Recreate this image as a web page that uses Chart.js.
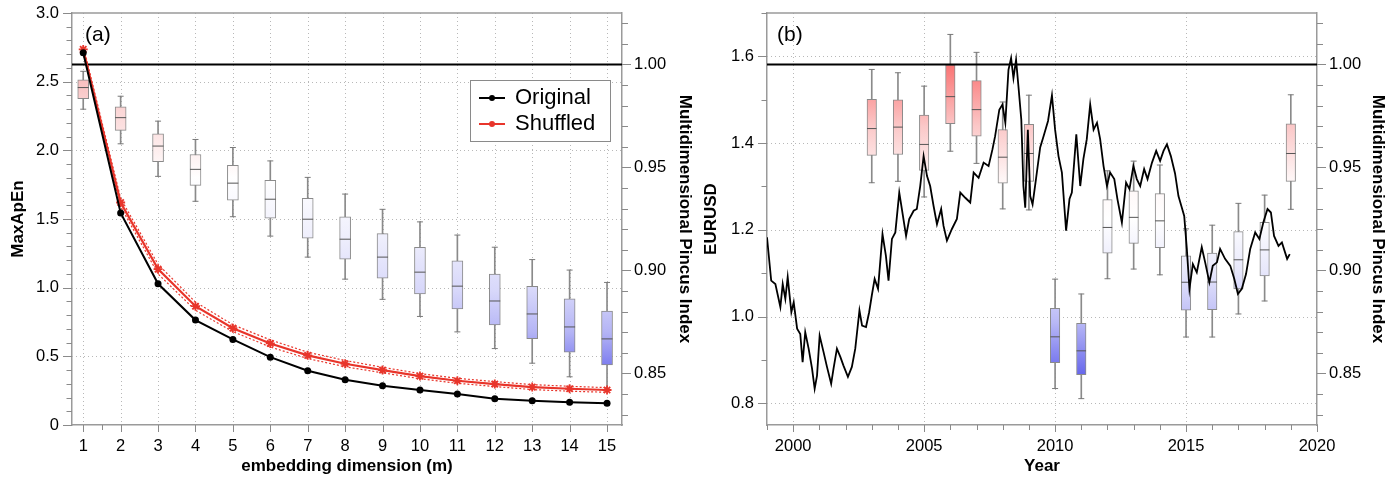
<!DOCTYPE html>
<html><head><meta charset="utf-8">
<script src="https://cdn.jsdelivr.net/npm/chart.js@4.4.1/dist/chart.umd.min.js"></script>
<style>
html,body{margin:0;padding:0;background:#fff;}
#wrap{position:relative;width:1400px;height:477px;overflow:hidden;}
canvas{position:absolute;top:0;}
</style></head><body>
<div id="wrap">
<canvas id="ca" width="700" height="477" style="left:0"></canvas>
<canvas id="cb" width="700" height="477" style="left:700px"></canvas>
</div>
<script>
// ================= Panel (a) data =================
const aDims = [1,2,3,4,5,6,7,8,9,10,11,12,13,14,15];
const aOriginal   = [2.71,1.544,1.028,0.764,0.623,0.494,0.395,0.330,0.286,0.255,0.225,0.192,0.177,0.165,0.158];
const aShuffled   = [2.735,1.62,1.135,0.865,0.705,0.594,0.507,0.446,0.400,0.356,0.322,0.298,0.276,0.264,0.255];
const aShuffledHi = [2.76,1.65,1.17,0.895,0.73,0.62,0.53,0.47,0.42,0.375,0.34,0.316,0.294,0.282,0.272];
const aShuffledLo = [2.71,1.59,1.10,0.835,0.68,0.568,0.484,0.424,0.38,0.337,0.304,0.28,0.258,0.246,0.238];
const aWhiskerLo = [0.9783,0.9615,0.9457,0.9336,0.9261,0.9167,0.9065,0.8958,0.8860,0.8777,0.8702,0.8621,0.8550,0.8484,0.8423];
const aQ1        = [0.9834,0.9680,0.9528,0.9413,0.9341,0.9254,0.9157,0.9055,0.8963,0.8886,0.8813,0.8736,0.8669,0.8603,0.8542];
const aMedian    = [0.9888,0.9742,0.9604,0.9491,0.9424,0.9346,0.9249,0.9152,0.9065,0.8992,0.8924,0.8852,0.8789,0.8726,0.8668];
const aQ3        = [0.9926,0.9794,0.9663,0.9563,0.9510,0.9438,0.9350,0.9260,0.9179,0.9113,0.9047,0.8983,0.8923,0.8862,0.8803];
const aWhiskerHi = [0.9967,0.9846,0.9725,0.9636,0.9597,0.9532,0.9452,0.9371,0.9297,0.9236,0.9172,0.9113,0.9053,0.9002,0.8942];
const aXTicks = [1,2,3,4,5,6,7,8,9,10,11,12,13,14,15];
const aYTicks = [0,0.5,1.0,1.5,2.0,2.5,3.0];
const mpiTicks = [0.85,0.90,0.95,1.00];
const mpiReference = 1.00;

// ================= Panel (b) data =================
const bYears = [2003,2004,2005,2006,2007,2008,2009,2010,2011,2012,2013,2014,2015,2016,2017,2018,2019];
const bWhiskerLo = [0.9426,0.9433,0.9357,0.9579,0.9520,0.9299,0.9294,0.8427,0.8378,0.8960,0.9007,0.8979,0.8677,0.8677,0.8789,0.8852,0.9297];
const bQ1        = [0.9559,0.9563,0.9486,0.9713,0.9652,0.9424,0.9433,0.8552,0.8494,0.9084,0.9132,0.9111,0.8808,0.8810,0.8910,0.8974,0.9433];
const bMedian    = [0.9689,0.9696,0.9612,0.9844,0.9781,0.9550,0.9568,0.8678,0.8610,0.9209,0.9258,0.9241,0.8943,0.8944,0.9052,0.9100,0.9568];
const bQ3        = [0.9831,0.9828,0.9754,0.9998,0.9922,0.9684,0.9709,0.8816,0.8743,0.9344,0.9387,0.9373,0.9071,0.9085,0.9189,0.9234,0.9712];
const bWhiskerHi = [0.9976,0.9960,0.9895,1.0146,1.0059,0.9818,0.9851,0.8958,0.8886,0.9484,0.9531,0.9512,0.9202,0.9220,0.9326,0.9366,0.9853];
const eurYear = [1999.00,1999.16,1999.32,1999.51,1999.60,1999.70,1999.79,1999.93,2000.02,2000.15,2000.27,2000.36,2000.46,2000.59,2000.72,2000.82,2000.91,2001.01,2001.16,2001.29,2001.45,2001.54,2001.67,2001.80,2001.92,2002.09,2002.24,2002.37,2002.53,2002.63,2002.78,2002.90,2003.00,2003.11,2003.24,2003.41,2003.54,2003.64,2003.77,2003.90,2004.05,2004.15,2004.31,2004.43,2004.60,2004.72,2004.85,2004.98,2005.11,2005.23,2005.36,2005.49,2005.65,2005.74,2005.87,2006.06,2006.25,2006.38,2006.57,2006.76,2006.89,2007.08,2007.27,2007.46,2007.61,2007.71,2007.87,2007.99,2008.10,2008.22,2008.32,2008.41,2008.51,2008.60,2008.71,2008.79,2008.86,2008.96,2009.05,2009.14,2009.27,2009.43,2009.56,2009.73,2009.88,2010.00,2010.13,2010.26,2010.42,2010.55,2010.64,2010.81,2010.96,2011.08,2011.21,2011.34,2011.47,2011.60,2011.72,2011.85,2011.98,2012.10,2012.26,2012.38,2012.55,2012.71,2012.84,2012.99,2013.12,2013.25,2013.40,2013.53,2013.70,2013.86,2014.01,2014.14,2014.27,2014.42,2014.58,2014.71,2014.84,2014.93,2015.03,2015.13,2015.26,2015.41,2015.60,2015.73,2015.89,2016.02,2016.18,2016.30,2016.49,2016.69,2016.84,2016.98,2017.13,2017.29,2017.45,2017.64,2017.80,2017.95,2018.11,2018.24,2018.36,2018.53,2018.66,2018.78,2018.86,2018.96];
const eurValue = [1.183,1.083,1.075,1.022,1.075,1.041,1.091,1.010,1.033,0.972,0.960,0.895,0.964,0.926,0.880,0.834,0.864,0.956,0.918,0.884,0.845,0.880,0.926,0.907,0.887,0.861,0.884,0.926,1.014,0.979,0.976,1.010,1.048,1.087,1.064,1.190,1.140,1.083,1.179,1.194,1.286,1.248,1.186,1.225,1.244,1.248,1.301,1.370,1.324,1.301,1.255,1.213,1.248,1.209,1.175,1.202,1.225,1.286,1.274,1.263,1.332,1.320,1.355,1.347,1.386,1.416,1.477,1.489,1.447,1.569,1.596,1.550,1.592,1.531,1.454,1.301,1.251,1.431,1.278,1.259,1.317,1.390,1.416,1.451,1.510,1.431,1.370,1.332,1.198,1.271,1.286,1.420,1.301,1.363,1.409,1.489,1.431,1.447,1.409,1.347,1.301,1.332,1.317,1.271,1.217,1.309,1.294,1.347,1.317,1.301,1.340,1.317,1.355,1.382,1.359,1.382,1.397,1.370,1.330,1.278,1.251,1.232,1.156,1.064,1.121,1.102,1.160,1.125,1.079,1.117,1.125,1.156,1.133,1.117,1.087,1.052,1.064,1.098,1.156,1.194,1.179,1.217,1.248,1.240,1.186,1.163,1.171,1.148,1.133,1.144];
const bXTicks = [2000,2005,2010,2015,2020];
const bYTicks = [0.8,1.0,1.2,1.4,1.6];

// ================= styling =================
const FONT = "'Liberation Sans', Arial, Helvetica, sans-serif";
Chart.defaults.font.family = FONT;
Chart.defaults.color = '#000';
const RED = '#e8352b';
const AXIS = '#9a9a9a';
const TICKC = '#8a8a8a';
const TICK_FONT = {size: 16.5};
const TITLE_FONT = {size: 17, weight: 'bold'};
const stopsA = [[1.00,'rgb(247,175,175)'],[0.985,'rgb(250,205,205)'],[0.945,'rgb(255,255,255)'],[0.915,'rgb(238,238,252)'],[0.89,'rgb(215,215,250)'],[0.87,'rgb(180,180,245)'],[0.85,'rgb(112,112,238)']];
const stopsB = [[1.00,'rgb(250,115,115)'],[0.97,'rgb(251,200,200)'],[0.945,'rgb(254,245,245)'],[0.925,'rgb(255,255,255)'],[0.90,'rgb(232,232,251)'],[0.875,'rgb(185,185,246)'],[0.85,'rgb(105,105,236)']];

function range(a, b, s) { const r = []; for (let v = a; v <= b + 1e-9; v += s) r.push(+v.toFixed(4)); return r; }

function boxSets(xs, wlo, q1, med, q3, whi, stops, width) {
  const grad = (c) => {
    const ch = c.chart; if (!ch.chartArea) return '#fff';
    const s = ch.scales.y2;
    const top = s.getPixelForValue(s.max), bot = s.getPixelForValue(s.min);
    const g = ch.ctx.createLinearGradient(0, top, 0, bot);
    stops.forEach(([v, col]) => g.addColorStop(Math.min(1, Math.max(0, (s.max - v) / (s.max - s.min))), col));
    return g;
  };
  return [
    {type:'line', data: xs.map((x,i)=>({x, y:med[i]})), yAxisID:'y2', showLine:false, pointStyle:'line', pointRadius:width/2, pointHoverRadius:width/2, pointBorderColor:'#555', pointBorderWidth:1, order:1},
    {type:'line', data: xs.flatMap((x,i)=>[{x,y:wlo[i]},{x,y:whi[i]}]), yAxisID:'y2', showLine:false, pointStyle:'line', pointRadius:3, pointHoverRadius:3, pointBorderColor:'#7a7a7a', pointBorderWidth:1, order:1},
    {type:'bar', data: xs.map((x,i)=>({x, y:[q1[i], q3[i]]})), yAxisID:'y2', backgroundColor:grad, borderColor:'#8a8a8a', borderWidth:1, borderSkipped:false, barThickness:width, grouped:false, order:2},
    {type:'bar', data: xs.map((x,i)=>({x, y:[wlo[i], whi[i]]})), yAxisID:'y2', backgroundColor:'#8a8a8a', borderWidth:0, barThickness:1, grouped:false, order:3}
  ];
}

const decor = {
  id: 'decor',
  beforeDatasetsDraw(chart, args, o) {
    const ctx = chart.ctx, a = chart.chartArea;
    ctx.save();
    ctx.strokeStyle = '#b8b8b8'; ctx.lineWidth = 1; ctx.setLineDash([1, 3]);
    o.gridX.forEach(v => { const p = Math.round(chart.scales.x.getPixelForValue(v)) + 0.5;
      if (p > a.left + 2 && p < a.right - 2) { ctx.beginPath(); ctx.moveTo(p, a.top); ctx.lineTo(p, a.bottom); ctx.stroke(); } });
    o.gridY.forEach(v => { const p = Math.round(chart.scales.y.getPixelForValue(v)) + 0.5;
      if (p > a.top + 2 && p < a.bottom - 2) { ctx.beginPath(); ctx.moveTo(a.left, p); ctx.lineTo(a.right, p); ctx.stroke(); } });
    ctx.restore();
  },
  afterDraw(chart, args, o) {
    const ctx = chart.ctx, a = chart.chartArea;
    ctx.save();
    ctx.strokeStyle = AXIS; ctx.lineWidth = 1.5;
    ctx.beginPath(); ctx.moveTo(a.left, a.top); ctx.lineTo(a.right, a.top); ctx.stroke();
    ctx.strokeStyle = TICKC; ctx.lineWidth = 1;
    o.ticks.forEach(spec => {
      const sc = chart.scales[spec.id];
      const draw = (v, len) => {
        const p = Math.round(sc.getPixelForValue(v)) + 0.5;
        ctx.beginPath();
        if (spec.side === 'left') { ctx.moveTo(a.left, p); ctx.lineTo(a.left - len, p); }
        else if (spec.side === 'right') { ctx.moveTo(a.right, p); ctx.lineTo(a.right + len, p); }
        else { ctx.moveTo(p, a.bottom); ctx.lineTo(p, a.bottom + len); }
        ctx.stroke();
      };
      spec.minor.forEach(v => draw(v, spec.minorLen));
      spec.major.forEach(v => draw(v, spec.majorLen));
    });
    ctx.fillStyle = '#000'; ctx.font = '21px ' + FONT; ctx.textBaseline = 'middle'; ctx.textAlign = 'left';
    ctx.fillText(o.label, o.labelX, o.labelY);
    if (o.legend) {
      const L = o.legend;
      ctx.fillStyle = '#fff'; ctx.fillRect(L.x, L.y, L.w, L.h);
      ctx.strokeStyle = '#8a8a8a'; ctx.lineWidth = 1; ctx.strokeRect(L.x + 0.5, L.y + 0.5, L.w, L.h);
      L.items.forEach((it, i) => {
        const y = L.y + L.firstY + i * L.rowH;
        ctx.strokeStyle = it.color; ctx.lineWidth = 2;
        ctx.beginPath(); ctx.moveTo(L.x + 9, y); ctx.lineTo(L.x + 35, y); ctx.stroke();
        ctx.fillStyle = it.color; ctx.beginPath(); ctx.arc(L.x + 22, y, 3, 0, Math.PI * 2); ctx.fill();
        ctx.fillStyle = '#000'; ctx.font = '22px ' + FONT; ctx.textBaseline = 'middle';
        ctx.fillText(it.text, L.x + 45, y);
      });
    }
    ctx.restore();
  }
};

const border = {display: true, color: AXIS, width: 1.5};
const noGrid = {display: false, drawTicks: false, tickLength: 0};
const fitV = w => s => { s.width = w; s.paddingTop = 0; s.paddingBottom = 0; };
const fitH = h => s => { s.height = h; s.paddingLeft = 0; s.paddingRight = 0; };

// ================= Chart (a) =================
new Chart(document.getElementById('ca'), {
  type: 'bar',
  data: { datasets: [
    {type:'line', label:'Original', data: aDims.map((m,i)=>({x:m, y:aOriginal[i]})), yAxisID:'y', borderColor:'#000', borderWidth:2, pointRadius:3.5, pointHoverRadius:3.5, pointBorderWidth:0, pointBackgroundColor:'#000', order:0},
    {type:'line', label:'Shuffled', data: aDims.map((m,i)=>({x:m, y:aShuffled[i]})), yAxisID:'y', borderColor:RED, borderWidth:2.2, pointStyle:'star', pointRadius:4.5, pointHoverRadius:4.5, pointBorderWidth:1.8, pointBorderColor:RED, pointBackgroundColor:RED, order:0},
    {type:'line', label:'hi', data: aDims.map((m,i)=>({x:m, y:aShuffledHi[i]})), yAxisID:'y', borderColor:RED, borderWidth:1.2, borderDash:[2,2], pointRadius:0, order:0},
    {type:'line', label:'lo', data: aDims.map((m,i)=>({x:m, y:aShuffledLo[i]})), yAxisID:'y', borderColor:RED, borderWidth:1.2, borderDash:[2,2], pointRadius:0, order:0},
    {type:'line', label:'ref', data: [{x:0, y:mpiReference}, {x:16, y:mpiReference}], yAxisID:'y2', borderColor:'#000', borderWidth:2, pointRadius:0, order:0},
    ...boxSets(aDims, aWhiskerLo, aQ1, aMedian, aQ3, aWhiskerHi, stopsA, 11)
  ]},
  options: {
    responsive:false, animation:false, devicePixelRatio:1,
    layout:{padding:{top:13, left:0, right:0, bottom:0}},
    plugins:{legend:{display:false}, tooltip:{enabled:false},
      decor:{
        gridX: aXTicks, gridY: aYTicks,
        ticks: [
          {id:'x', side:'bottom', major:aXTicks, minor:[1.5], majorLen:7, minorLen:5},
          {id:'y', side:'left', major:aYTicks, minor:range(0,3,0.1), majorLen:9, minorLen:5.5},
          {id:'y2', side:'right', major:mpiTicks, minor:range(0.83,1.02,0.01), majorLen:9, minorLen:6}
        ],
        label:'(a)', labelX:85, labelY:35,
        legend:{x:470, y:80, w:140, h:61, firstY:18, rowH:26, items:[{text:'Original', color:'#000'}, {text:'Shuffled', color:RED}]}
      }},
    scales:{
      x:{type:'linear', min:0.7, max:15.4, offset:false, grid:noGrid, border,
        afterBuildTicks: s => { s.ticks = aXTicks.map(v => ({value:v})); },
        ticks:{padding:12, font:TICK_FONT, color:'#000', maxRotation:0, autoSkip:false, callback: v => String(v)},
        title:{display:true, text:'embedding dimension (m)', font:TITLE_FONT, color:'#000', padding:{top:0, bottom:0}},
        afterFit: fitH(52)},
      y:{type:'linear', position:'left', min:0, max:3, grid:noGrid, border,
        afterBuildTicks: s => { s.ticks = aYTicks.map(v => ({value:v})); },
        ticks:{padding:13, font:TICK_FONT, color:'#000', callback: v => v === 0 ? '0' : v.toFixed(1)},
        title:{display:true, text:'MaxApEn', font:TITLE_FONT, color:'#000', padding:{top:8, bottom:0}},
        afterFit: fitV(72)},
      y2:{type:'linear', position:'right', min:0.825, max:1.025, grid:noGrid, border,
        afterBuildTicks: s => { s.ticks = mpiTicks.map(v => ({value:v})); },
        ticks:{padding:12, font:TICK_FONT, color:'#000', callback: v => v.toFixed(2)},
        title:{display:true, text:'Multidimensional Pincus Index', font:TITLE_FONT, color:'#000', padding:{top:5, bottom:0}},
        afterFit: fitV(78)}
    }
  },
  plugins:[decor]
});

// ================= Chart (b) =================
new Chart(document.getElementById('cb'), {
  type: 'bar',
  data: { datasets: [
    {type:'line', label:'EURUSD', data: eurYear.map((t,i)=>({x:t, y:eurValue[i]})), yAxisID:'y', borderColor:'#000', borderWidth:1.8, pointRadius:0, pointHoverRadius:0, order:0},
    {type:'line', label:'ref', data: [{x:1998, y:mpiReference}, {x:2021, y:mpiReference}], yAxisID:'y2', borderColor:'#000', borderWidth:2, pointRadius:0, order:0},
    ...boxSets(bYears, bWhiskerLo, bQ1, bMedian, bQ3, bWhiskerHi, stopsB, 9.5)
  ]},
  options: {
    responsive:false, animation:false, devicePixelRatio:1,
    layout:{padding:{top:13, left:0, right:0, bottom:0}},
    plugins:{legend:{display:false}, tooltip:{enabled:false},
      decor:{
        gridX: bXTicks, gridY: bYTicks,
        ticks: [
          {id:'x', side:'bottom', major:bXTicks, minor:range(1999,2019,1), majorLen:7, minorLen:5},
          {id:'y', side:'left', major:bYTicks, minor:[0.9,1.1,1.3,1.5,1.7], majorLen:9, minorLen:5.5},
          {id:'y2', side:'right', major:mpiTicks, minor:range(0.83,1.02,0.01), majorLen:9, minorLen:6}
        ],
        label:'(b)', labelX:77, labelY:35
      }},
    scales:{
      x:{type:'linear', min:1999, max:2020, offset:false, grid:noGrid, border,
        afterBuildTicks: s => { s.ticks = bXTicks.map(v => ({value:v})); },
        ticks:{padding:12, font:TICK_FONT, color:'#000', maxRotation:0, autoSkip:false, callback: v => String(v)},
        title:{display:true, text:'Year', font:TITLE_FONT, color:'#000', padding:{top:0, bottom:0}},
        afterFit: fitH(52)},
      y:{type:'linear', position:'left', min:0.75, max:1.70, grid:noGrid, border,
        afterBuildTicks: s => { s.ticks = bYTicks.map(v => ({value:v})); },
        ticks:{padding:13, font:TICK_FONT, color:'#000', callback: v => v.toFixed(1)},
        title:{display:true, text:'EURUSD', font:TITLE_FONT, color:'#000', padding:{top:1, bottom:0}},
        afterFit: fitV(67)},
      y2:{type:'linear', position:'right', min:0.825, max:1.025, grid:noGrid, border,
        afterBuildTicks: s => { s.ticks = mpiTicks.map(v => ({value:v})); },
        ticks:{padding:12, font:TICK_FONT, color:'#000', callback: v => v.toFixed(2)},
        title:{display:true, text:'Multidimensional Pincus Index', font:TITLE_FONT, color:'#000', padding:{top:12, bottom:0}},
        afterFit: fitV(83)}
    }
  },
  plugins:[decor]
});
</script>
</body></html>
